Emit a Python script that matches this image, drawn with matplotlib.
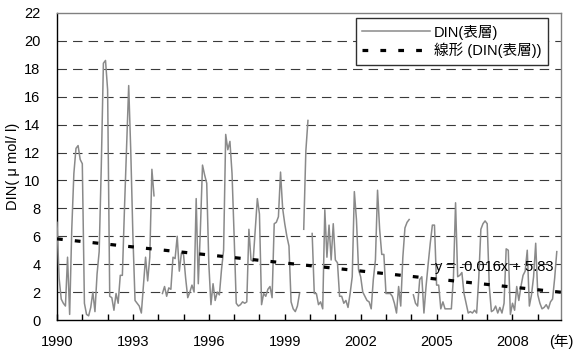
import numpy as np
import matplotlib
matplotlib.use('Agg')
import matplotlib.pyplot as plt
from matplotlib.ticker import FixedLocator, FixedFormatter

nan = np.nan

# Monthly DIN (surface layer), μmol/l, Jan 1990 - Dec 2009
din_1990 = [7.0, 3.0, 1.5, 1.2, 1.0, 4.5, 0.4, 6.5, 10.5, 12.3, 12.5, 11.5]
din_1991 = [11.2, 1.2, 0.4, 0.3, 0.9, 2.0, 0.6, 3.3, 4.9, 11.0, 18.4, 18.6]
din_1992 = [16.5, 1.7, 1.6, 0.7, 1.9, 1.2, 3.2, 3.2, 8.0, 12.5, 16.8, 12.0]
din_1993 = [6.0, 1.4, 1.2, 1.0, 0.5, 2.5, 4.5, 2.8, 4.5, 10.8, 8.9, nan]
din_1994 = [nan, nan, 1.9, 2.4, 1.7, 2.3, 2.2, 4.5, 4.4, 6.0, 3.5, 4.8]
din_1995 = [4.7, 3.0, 1.6, 2.0, 2.5, 2.0, 8.7, 2.6, 6.5, 11.1, 10.4, 9.8]
din_1996 = [4.0, 1.1, 2.6, 1.4, 2.0, 1.8, 3.6, 5.0, 13.3, 12.2, 12.8, 10.5]
din_1997 = [6.0, 1.2, 1.0, 1.1, 1.3, 1.2, 1.3, 6.5, 4.3, 4.2, 6.5, 8.7]
din_1998 = [7.6, 1.1, 1.9, 1.7, 2.2, 2.4, 1.6, 6.9, 7.0, 7.4, 10.6, 8.0]
din_1999 = [6.9, 6.0, 5.3, 1.3, 0.8, 0.6, 1.0, 1.9, nan, 6.5, 12.1, 14.3]
din_2000 = [nan, 6.2, 1.9, 1.9, 1.1, 1.3, 0.8, 7.9, 4.5, 6.8, 4.3, 6.9]
din_2001 = [4.3, 4.1, 1.7, 1.7, 1.2, 1.4, 0.9, 1.9, 3.1, 9.2, 7.2, 3.6]
din_2002 = [3.1, 2.0, 1.7, 1.4, 1.3, 0.8, 2.9, 4.3, 9.3, 6.5, 4.7, 4.7]
din_2003 = [1.9, 1.9, 1.9, 1.7, 1.2, 0.5, 2.4, 1.0, 4.5, 6.6, 7.0, 7.2]
din_2004 = [nan, 1.8, 1.2, 1.0, 2.9, 3.1, 0.5, 2.4, 4.0, 5.5, 6.8, 6.8]
din_2005 = [2.5, 2.5, 0.8, 1.3, 0.8, 0.8, 0.8, 0.8, 3.1, 8.4, 3.1, 3.2]
din_2006 = [3.4, 1.9, 1.2, 0.5, 0.6, 0.5, 0.7, 0.5, 3.0, 6.5, 6.9, 7.1]
din_2007 = [6.9, 2.4, 0.6, 0.7, 1.0, 0.5, 0.9, 0.5, 1.2, 5.1, 5.0, 0.4]
din_2008 = [1.2, 0.7, 2.4, 1.4, 2.4, 3.2, 3.5, 5.0, 1.0, 1.8, 3.1, 5.5]
din_2009 = [1.8, 1.2, 0.8, 0.9, 1.1, 0.8, 1.3, 1.5, 3.0, 4.9, nan, nan]

trend_slope = -0.016
trend_intercept = 5.83

year_labels = ['1990', '1993', '1996', '1999', '2002', '2005', '2008']
y_ticks = [0, 2, 4, 6, 8, 10, 12, 14, 16, 18, 20, 22]

series_label = 'DIN(表層)'
trend_label = '線形 (DIN(表層))'
y_label = 'DIN( μ mol/ l)'
x_unit = '(年)'
equation = 'y = -0.016x + 5.83'

din = np.array(din_1990 + din_1991 + din_1992 + din_1993 + din_1994 +
               din_1995 + din_1996 + din_1997 + din_1998 + din_1999 +
               din_2000 + din_2001 + din_2002 + din_2003 + din_2004 +
               din_2005 + din_2006 + din_2007 + din_2008 + din_2009, dtype=float)
n = len(din)
idx = np.arange(n)
trend = trend_slope * (idx + 1) + trend_intercept

fam = ['Liberation Sans', 'Noto Sans CJK JP', 'DejaVu Sans']
plt.rcParams['font.family'] = fam

W, H = 574, 353
fig = plt.figure(figsize=(W / 100, H / 100), dpi=100)
ax = fig.add_axes([57 / W, 1 - 320 / H, 504 / W, 307 / H])

ax.plot(idx, din, color='#8a8a8a', lw=1.1, label=series_label, zorder=3)
ax.plot(idx, trend, color='black', lw=2.3, linestyle=(0, (1.8, 3.8)),
        label=trend_label, zorder=4)

ax.set_xlim(0, n - 1)
ax.set_ylim(0, 22)

ax.yaxis.set_major_locator(FixedLocator(y_ticks))
ax.tick_params(axis='y', length=0, pad=12, labelsize=10.5)
ax.xaxis.set_major_locator(FixedLocator(list(range(0, n, 36))))
ax.xaxis.set_major_formatter(FixedFormatter(year_labels))
ax.xaxis.set_minor_locator(FixedLocator(list(range(0, n, 12))))
ax.tick_params(axis='x', which='both', direction='in', length=4, width=1,
               color='black', pad=11, labelsize=10.5)

ax.yaxis.grid(True, color='#3a3a3a', lw=0.8, linestyle=(0, (8.5, 5.5)))
gl = ax.get_ygridlines()
gl[0].set_visible(False)
gl[-1].set_visible(False)

for s in ['left', 'bottom']:
    ax.spines[s].set_color('black')
    ax.spines[s].set_linewidth(1.0)
for s in ['top', 'right']:
    ax.spines[s].set_color('#808080')
    ax.spines[s].set_linewidth(1.0)

ax.set_ylabel(y_label, fontsize=10.5, labelpad=3)

ax.text(494 / W, 1 - 267 / H, equation, transform=fig.transFigure, fontsize=10.5,
        ha='center', va='center', zorder=5)
fig.text(573 / W, 1 - 342 / H, x_unit, fontsize=10.5, ha='right', va='center')

leg = ax.legend(loc='upper right', bbox_to_anchor=(548 / W, 1 - 18 / H),
                bbox_transform=fig.transFigure, fontsize=10.5, frameon=True,
                fancybox=False, edgecolor='#303030', framealpha=1,
                handlelength=4.6, handletextpad=0.3, borderpad=0.45,
                labelspacing=0.2, borderaxespad=0)
leg.get_frame().set_linewidth(1.0)

fig.savefig('out.png', dpi=100)
